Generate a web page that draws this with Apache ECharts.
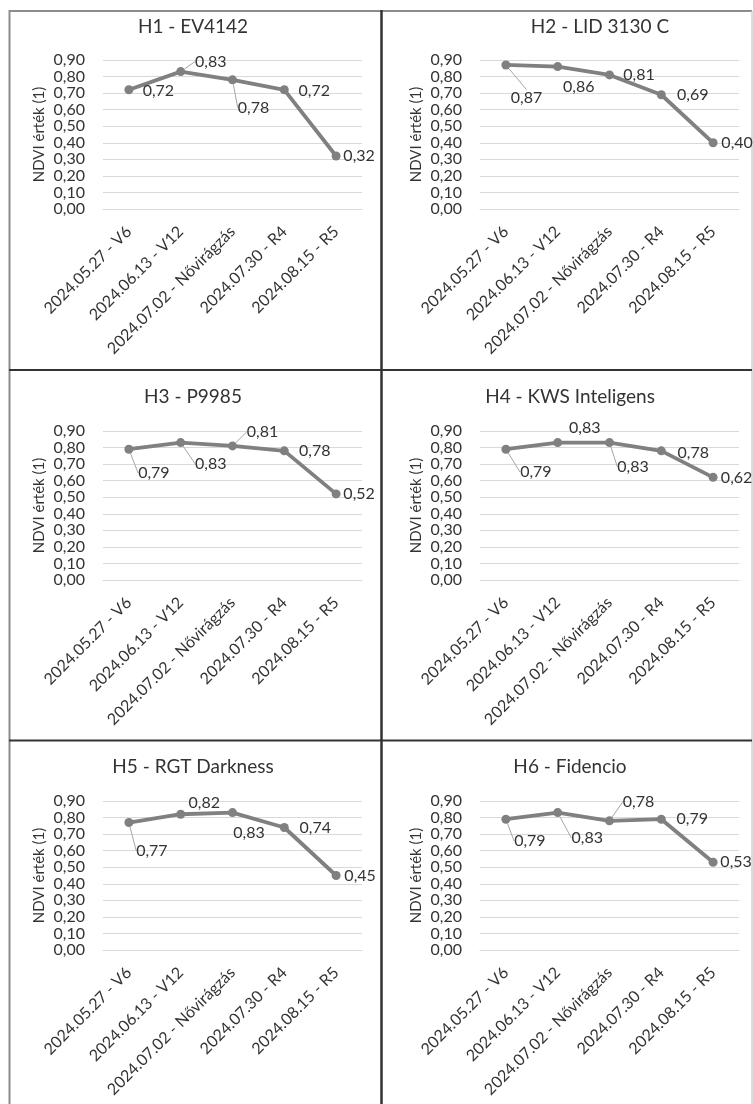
<!DOCTYPE html>
<html>
<head>
<meta charset="utf-8">
<script src="https://cdn.jsdelivr.net/npm/echarts@6/dist/echarts.min.js"></script>
<style>
html,body{margin:0;padding:0;background:#fff;}
#c{width:753px;height:1104px;}
</style>
</head>
<body>
<div id="c"></div>
<script>
// ---- data ----
const categories = ['2024.05.27 - V6', '2024.06.13 - V12', '2024.07.02 - Nővirágzás', '2024.07.30 - R4', '2024.08.15 - R5'];
const titles = ['H1 - EV4142', 'H2 - LID 3130 C', 'H3 - P9985', 'H4 - KWS Inteligens', 'H5 - RGT Darkness', 'H6 - Fidencio'];
const h1 = [0.72, 0.83, 0.78, 0.72, 0.32];
const h2 = [0.87, 0.86, 0.81, 0.69, 0.40];
const h3 = [0.79, 0.83, 0.81, 0.78, 0.52];
const h4 = [0.79, 0.83, 0.83, 0.78, 0.62];
const h5 = [0.77, 0.82, 0.83, 0.74, 0.45];
const h6 = [0.79, 0.83, 0.78, 0.79, 0.53];
const yAxisName = 'NDVI érték (1)';
const yMin = 0, yMax = 0.9, yStep = 0.1;

// ---- layout / style (not data) ----
const seriesValues = [h1, h2, h3, h4, h5, h6];
const FONT = 'Lato, "Open Sans", sans-serif';
const TXT = '#333333';
const colLeft = [103, 480];
const rowTop = [60, 431, 801];
const gridW = 259, gridH = 149;
const titlePos = [[193, 27], [600, 27], [193, 397], [570, 397], [193, 767], [570, 767]];
// label offsets (dx, dy) from point centre, and leader-line flags
const labelOffsets = [
  [[29.5, 1], [30, -10], [21, 28], [30, 1], [23, 0]],
  [[20.6, 32.7], [21, 20.7], [29.5, 0], [31.5, 0], [24, 0]],
  [[25, 24], [30, 21], [30, -14], [30.5, 0], [23, 0]],
  [[30, 23], [27, -15], [23.5, 24], [32, 2], [23.5, 0]],
  [[23, 28], [23.5, -11.5], [16.5, 20], [31, 0], [24, 0]],
  [[24, 22], [29.5, 25.6], [29, -19], [31, 0], [23, 0]]
];
const leaders = [
  [0, 1, 1, 0, 0],
  [1, 0, 0, 0, 0],
  [1, 1, 1, 0, 0],
  [1, 0, 1, 0, 0],
  [1, 0, 0, 0, 0],
  [1, 1, 1, 0, 0]
];

const fmt = v => v.toFixed(2).replace('.', ',');

const grids = [], xAxes = [], yAxes = [], series = [], graphics = [];
seriesValues.forEach((vals, i) => {
  const col = i % 2, row = Math.floor(i / 2);
  grids.push({ left: colLeft[col], top: rowTop[row], width: gridW, height: gridH, containLabel: false });
  xAxes.push({
    type: 'category', gridIndex: i, data: categories, boundaryGap: true,
    axisLine: { show: true, lineStyle: { color: '#d9d9d9', width: 1 } },
    axisTick: { show: false },
    axisLabel: { interval: 0, rotate: 45, margin: 20, color: TXT, fontFamily: FONT, fontSize: 16 }
  });
  yAxes.push({
    type: 'value', gridIndex: i, min: yMin, max: yMax, interval: yStep,
    name: yAxisName, nameLocation: 'middle', nameRotate: 90, nameGap: 56,
    nameTextStyle: { color: TXT, fontFamily: FONT, fontSize: 15 },
    axisLine: { show: false }, axisTick: { show: false },
    splitLine: { show: true, lineStyle: { color: '#d9d9d9', width: 1 } },
    axisLabel: { margin: 18, color: TXT, fontFamily: FONT, fontSize: 16, formatter: v => fmt(v) }
  });
  const offs = labelOffsets[i];
  series.push({
    type: 'line', xAxisIndex: i, yAxisIndex: i,
    data: vals.map((v, k) => ({ value: v, labelLine: { show: !!leaders[i][k] } })),
    symbol: 'circle', symbolSize: 9,
    lineStyle: { color: '#808080', width: 3.8 },
    itemStyle: { color: '#808080' },
    label: { show: true, position: 'inside', color: TXT, fontFamily: FONT, fontSize: 16, formatter: p => fmt(p.value) },
    labelLine: { show: false, lineStyle: { color: '#a6a6a6', width: 1 } },
    labelLayout: p => ({ dx: offs[p.dataIndex][0], dy: offs[p.dataIndex][1] }),
    animation: false
  });
  graphics.push({
    type: 'text', x: titlePos[i][0], y: titlePos[i][1],
    style: { text: titles[i], align: 'center', verticalAlign: 'middle', fill: TXT, font: '19px ' + FONT }
  });
});

// panel borders
const line = (x1, y1, x2, y2, color, w) => ({ type: 'line', shape: { x1, y1, x2, y2 }, style: { stroke: color, lineWidth: w }, silent: true });
graphics.push(line(9, 11, 752, 11, '#8c8c8c', 2));
graphics.push(line(9.5, 10, 9.5, 1104, '#8c8c8c', 2));
graphics.push(line(752, 11, 752, 1104, '#d0d0d0', 1.5));
graphics.push(line(381.5, 10, 381.5, 1104, '#333333', 2.5));
graphics.push(line(9, 370, 752, 370, '#333333', 2));
graphics.push(line(9, 740.5, 752, 740.5, '#333333', 2));

const chart = echarts.init(document.getElementById('c'), null, { renderer: 'canvas' });
chart.setOption({
  animation: false,
  backgroundColor: '#ffffff',
  grid: grids, xAxis: xAxes, yAxis: yAxes, series: series,
  graphic: graphics
});
</script>
</body>
</html>
